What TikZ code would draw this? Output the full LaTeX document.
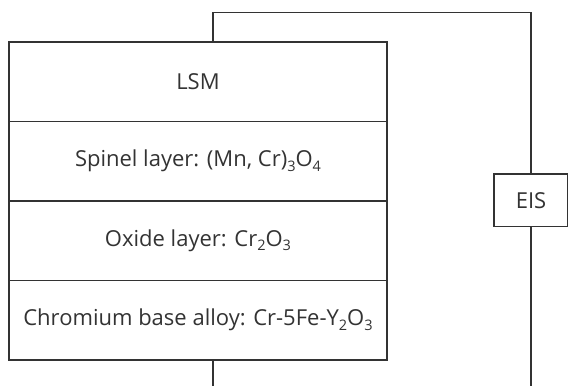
\documentclass[tikz,border=0pt]{standalone}
\usepackage{fontspec}
\setmainfont{Open Sans}
\definecolor{ln}{HTML}{333333}
\newcommand{\lsub}[1]{\raisebox{-4.5pt}{\fontsize{14.5}{15}\selectfont #1}}
\begin{document}
\begin{tikzpicture}[x=1pt,y=1pt,line width=1.2pt,
  layer/.style={draw=ln,rectangle,minimum width=378pt,minimum height=79.5pt,inner sep=0pt,outer sep=0pt,text=ln,font=\fontsize{22}{26}\selectfont},
  eisbox/.style={draw=ln,fill=white,rectangle,minimum width=74pt,minimum height=52.7pt,inner sep=0pt,outer sep=0pt,text=ln,font=\fontsize{22}{26}\selectfont},
  wire/.style={draw=ln,line width=1.2pt,line join=miter}]
\useasboundingbox (0,0) rectangle (568,386);
\node[layer] (lsm) at (198,304.25) {LSM};
\node[layer] (spinel) at (198,224.75) {Spinel layer: (Mn, Cr)\lsub{3}O\lsub{4}};
\node[layer] (oxide) at (198,145.25) {Oxide layer: Cr\lsub{2}O\lsub{3}};
\node[layer] (alloy) at (198,65.75) {Chromium base alloy: Cr-5Fe-Y\lsub{2}O\lsub{3}};
\node[eisbox] (eis) at (531,185.7) {EIS};
\coordinate (topl) at (213,373.7);
\coordinate (topr) at (531,373.7);
\coordinate (bot) at (531,0);
\coordinate (stubt) at (213,344);
\coordinate (stubb) at (213,26);
\coordinate (stubbe) at (213,0);
\draw[wire] (stubt) -- (topl) -- (topr) -- (eis.north);
\draw[wire] (eis.south) -- (bot);
\draw[wire] (stubb) -- (stubbe);
\end{tikzpicture}
\end{document}
